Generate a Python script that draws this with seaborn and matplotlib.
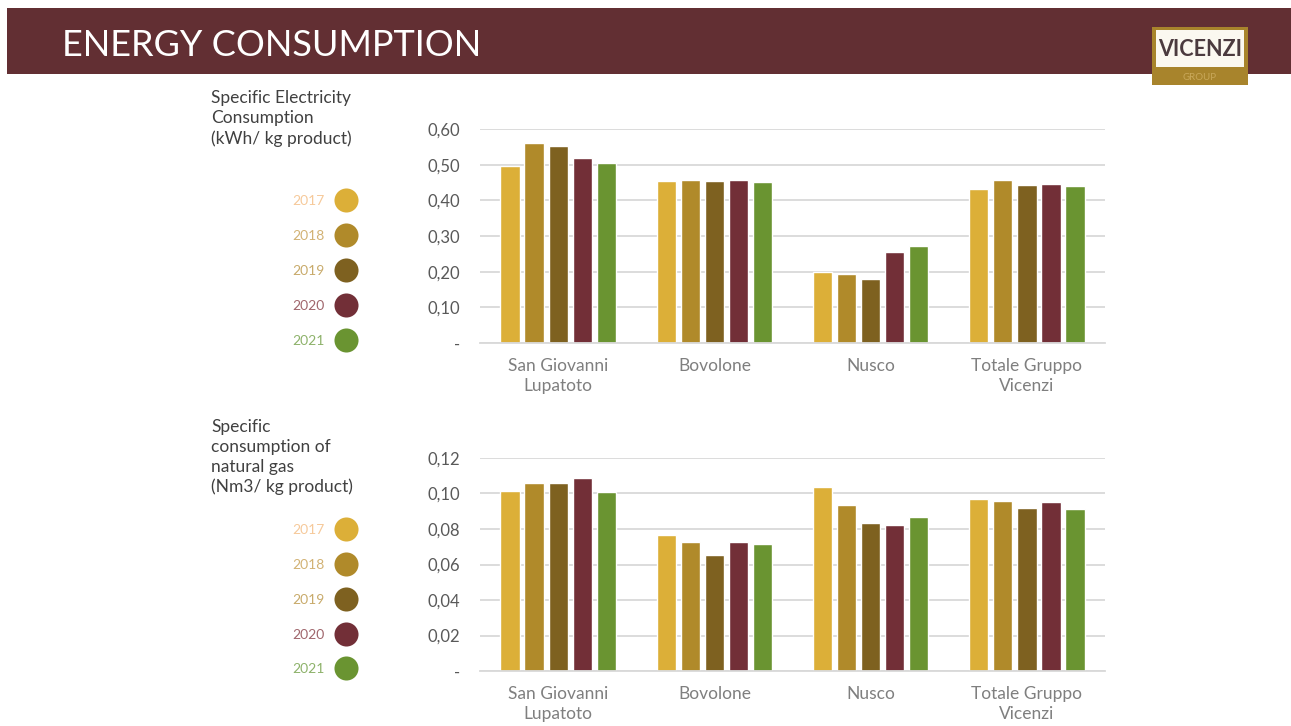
import matplotlib
matplotlib.use("Agg")
import matplotlib.pyplot as plt
import seaborn as sns
import pandas as pd
from matplotlib.patches import Rectangle

# ---- data ----
categories = ["San Giovanni\nLupatoto", "Bovolone", "Nusco", "Totale Gruppo\nVicenzi"]
years = ["2017", "2018", "2019", "2020", "2021"]

elec_2017 = [0.497, 0.455, 0.199, 0.432]
elec_2018 = [0.561, 0.458, 0.193, 0.457]
elec_2019 = [0.551, 0.455, 0.180, 0.442]
elec_2020 = [0.518, 0.457, 0.256, 0.445]
elec_2021 = [0.505, 0.451, 0.273, 0.441]

gas_2017 = [0.1013, 0.0769, 0.1038, 0.0968]
gas_2018 = [0.1059, 0.0725, 0.0938, 0.0959]
gas_2019 = [0.1059, 0.0654, 0.0833, 0.0919]
gas_2020 = [0.1085, 0.0727, 0.0825, 0.0953]
gas_2021 = [0.1008, 0.0714, 0.0868, 0.0912]

elec_ticks = [0.0, 0.1, 0.2, 0.3, 0.4, 0.5, 0.6]
elec_ticklabels = ["-", "0,10", "0,20", "0,30", "0,40", "0,50", "0,60"]
gas_ticks = [0.0, 0.02, 0.04, 0.06, 0.08, 0.10, 0.12]
gas_ticklabels = ["-", "0,02", "0,04", "0,06", "0,08", "0,10", "0,12"]

title = "ENERGY CONSUMPTION"
elec_label = "Specific Electricity\nConsumption\n(kWh/ kg product)"
gas_label = "Specific\nconsumption of\nnatural gas\n(Nm3/ kg product)"

bar_colors = ["#DCAF38", "#B08A2A", "#7E6120", "#722F37", "#6A9431"]
legend_text_colors = ["#F6C99A", "#D2B274", "#C8AA6A", "#A0666C", "#8DB26A"]


def long_df(series):
    rows = []
    for y, vals in zip(years, series):
        for c, v in zip(categories, vals):
            rows.append({"cat": c, "year": y, "val": v})
    return pd.DataFrame(rows)


df_elec = long_df([elec_2017, elec_2018, elec_2019, elec_2020, elec_2021])
df_gas = long_df([gas_2017, gas_2018, gas_2019, gas_2020, gas_2021])

sns.set_theme(style="white")
plt.rcParams["font.family"] = ["Lato", "DejaVu Sans"]

W, H = 1291, 726
fig = plt.figure(figsize=(W / 100, H / 100), dpi=100)

# overlay in pixel coords for banner, logo, side legends
ov = fig.add_axes([0, 0, 1, 1], zorder=0)
ov.set_xlim(0, W)
ov.set_ylim(H, 0)
ov.axis("off")

ov.add_patch(Rectangle((7, 8), W - 7, 66, color="#622F33", lw=0))
ov.text(62, 46, title, color="white", fontsize=26, fontweight="normal",
        va="center", ha="left")
# logo
ov.add_patch(Rectangle((1152, 27), 96, 58, color="#A8842C", lw=0, zorder=2))
ov.add_patch(Rectangle((1156, 30), 88, 37, color="#FBF8F0", lw=0, zorder=3))
ov.text(1200, 49, "VICENZI", color="#4B3A3E", fontsize=15.5, fontweight="bold",
        ha="center", va="center", zorder=4)
ov.text(1200, 77, "GROUP", color="#C9A85A", fontsize=7, ha="center", va="center", zorder=4)


def draw_side(y_top, label, ys):
    ov.text(211, y_top, label, color="#404040", fontsize=12.5, ha="left", va="top",
            linespacing=1.3)
    for yr, yy, col, tcol in zip(years, ys, bar_colors, legend_text_colors):
        ov.scatter([346], [yy], s=300, color=col, lw=0, zorder=3)
        ov.text(325, yy + 1, yr, color=tcol, fontsize=10, ha="right", va="center")


draw_side(90, elec_label, [200, 235, 270, 305, 340])
draw_side(419, gas_label, [529, 564, 599, 634, 668])


def draw_chart(rect, df, ticks, ticklabels):
    ax = fig.add_axes(rect, zorder=1)
    ax.set_facecolor("none")
    sns.barplot(data=df, x="cat", y="val", hue="year", palette=bar_colors,
                width=0.77, gap=0.2, ax=ax, legend=False, errorbar=None,
                saturation=1)
    ax.set_xlim(-0.5, 3.5)
    ax.set_ylim(ticks[0], ticks[-1])
    ax.set_yticks(ticks)
    ax.set_yticklabels(ticklabels)
    ax.yaxis.grid(True, color="#D9D9D9", lw=1.3)
    ax.set_axisbelow(True)
    for s in ["top", "right", "left"]:
        ax.spines[s].set_visible(False)
    ax.spines["bottom"].set_color("#D9D9D9")
    ax.spines["bottom"].set_linewidth(1.3)
    ax.tick_params(axis="y", length=0, pad=14, labelsize=12, labelcolor="#595959")
    ax.tick_params(axis="x", length=0, pad=11, labelsize=12.5, labelcolor="#7F7F7F")
    for lab in ax.get_xticklabels():
        lab.set_linespacing(1.25)
    ax.set_xlabel("")
    ax.set_ylabel("")
    return ax


draw_chart([480 / W, 1 - 343 / H, 625 / W, 214 / H], df_elec, elec_ticks, elec_ticklabels)
draw_chart([480 / W, 1 - 671 / H, 625 / W, 213 / H], df_gas, gas_ticks, gas_ticklabels)

fig.savefig("out.png", dpi=100)
